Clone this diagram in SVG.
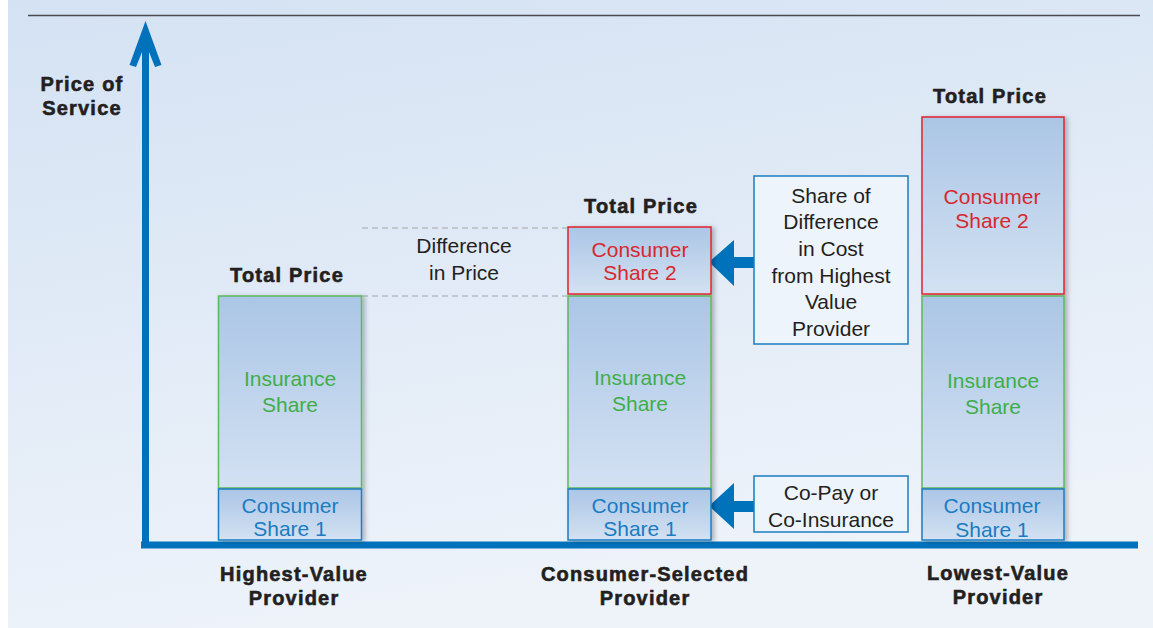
<svg xmlns="http://www.w3.org/2000/svg" width="1153" height="628" viewBox="0 0 1153 628">
<defs>
<linearGradient id="bg" x1="0" y1="0" x2="0.3" y2="1">
<stop offset="0" stop-color="#d4e2f3"/>
<stop offset="1" stop-color="#eef3fa"/>
</linearGradient>
<linearGradient id="bar" x1="0" y1="0" x2="0" y2="1">
<stop offset="0" stop-color="#abc6e6"/>
<stop offset="1" stop-color="#d3e1f2"/>
</linearGradient>
<filter id="sh" x="-10%" y="-10%" width="130%" height="120%">
<feDropShadow dx="3" dy="1" stdDeviation="2" flood-color="#000" flood-opacity="0.25"/>
</filter>
<style>
.bold{font-family:"Liberation Sans",Arial,sans-serif;font-weight:bold;font-size:20px;fill:#231f20;stroke:#231f20;stroke-width:0.6px;letter-spacing:1.2px;text-anchor:middle}
.t{font-family:"Liberation Sans",Arial,sans-serif;font-size:21px;text-anchor:middle}
.dark{fill:#231f20}
.grn{fill:#3fae49}
.red{fill:#d7282f}
.blu{fill:#1a7cc1}
.gseg{fill:url(#bar);stroke:#5cb85c;stroke-width:1.5}
.rseg{fill:url(#bar);stroke:#e0242c;stroke-width:1.5}
.bseg{fill:url(#bar);stroke:#1a7cc1;stroke-width:1.5}
.box{fill:#eef4fb;stroke:#1a7cc1;stroke-width:1.5}
.dash{stroke:#a0a4a8;stroke-width:1;stroke-dasharray:6 4;fill:none}
.arr{fill:#0072bc}
</style>
</defs>
<rect x="0" y="0" width="1153" height="628" fill="#ffffff"/>
<rect x="8" y="0" width="1145" height="628" fill="url(#bg)"/>
<line x1="28" y1="15.5" x2="1140" y2="15.5" stroke="#4a4a4f" stroke-width="1.5"/>

<g id="axes">
<polygon class="arr" points="145.5,21 161.5,65 155,67 149,52 149,545 142,545 142,52 136,67 129.5,65"/>
<rect class="arr" x="141" y="541.5" width="997" height="7"/>
<text class="bold" x="82" y="91">Price of</text>
<text class="bold" x="82" y="115">Service</text>
</g>

<g id="connectors">
<line class="dash" x1="362" y1="228" x2="567" y2="228"/>
<line class="dash" x1="362" y1="296" x2="567" y2="296"/>
<polygon class="arr" points="709,262 734,240 734,257 754,257 754,268 734,268 734,286"/>
<polygon class="arr" points="709,506 734,483 734,501 754,501 754,512 734,512 734,529"/>
</g>

<g id="bar-highest">
<g filter="url(#sh)">
<rect class="gseg" x="218.5" y="296" width="143" height="192"/>
<rect class="bseg" x="218.5" y="489" width="143" height="51"/>
</g>
<text class="bold" x="287" y="282">Total Price</text>
<text class="t grn" x="290" y="386">Insurance</text>
<text class="t grn" x="290" y="412">Share</text>
<text class="t blu" x="290" y="513">Consumer</text>
<text class="t blu" x="290" y="536">Share 1</text>
<text class="bold" x="294" y="581">Highest-Value</text>
<text class="bold" x="294" y="605">Provider</text>
</g>

<g id="difference-label">
<text class="t dark" x="464" y="253">Difference</text>
<text class="t dark" x="464" y="280">in Price</text>
</g>

<g id="bar-selected">
<g filter="url(#sh)">
<rect class="rseg" x="568" y="227" width="143" height="67"/>
<rect class="gseg" x="568" y="296" width="143" height="192"/>
<rect class="bseg" x="568" y="489" width="143" height="51"/>
</g>
<text class="bold" x="641" y="213">Total Price</text>
<text class="t red" x="640" y="257">Consumer</text>
<text class="t red" x="640" y="280">Share 2</text>
<text class="t grn" x="640" y="385">Insurance</text>
<text class="t grn" x="640" y="411">Share</text>
<text class="t blu" x="640" y="513">Consumer</text>
<text class="t blu" x="640" y="536">Share 1</text>
<text class="bold" x="645" y="581">Consumer-Selected</text>
<text class="bold" x="645" y="605">Provider</text>
</g>

<g id="note-difference">
<rect class="box" x="754" y="176" width="154" height="168"/>
<text class="t dark" x="831" y="203">Share of</text>
<text class="t dark" x="831" y="229">Difference</text>
<text class="t dark" x="831" y="256">in Cost</text>
<text class="t dark" x="831" y="283">from Highest</text>
<text class="t dark" x="831" y="309">Value</text>
<text class="t dark" x="831" y="336">Provider</text>
</g>

<g id="note-copay">
<rect class="box" x="754" y="476" width="154" height="56"/>
<text class="t dark" x="831" y="500">Co-Pay or</text>
<text class="t dark" x="831" y="527">Co-Insurance</text>
</g>

<g id="bar-lowest">
<g filter="url(#sh)">
<rect class="rseg" x="922" y="117" width="142" height="177"/>
<rect class="gseg" x="922" y="296" width="142" height="192"/>
<rect class="bseg" x="922" y="489" width="142" height="51"/>
</g>
<text class="bold" x="990" y="103">Total Price</text>
<text class="t red" x="992" y="204">Consumer</text>
<text class="t red" x="992" y="228">Share 2</text>
<text class="t grn" x="993" y="388">Insurance</text>
<text class="t grn" x="993" y="414">Share</text>
<text class="t blu" x="992" y="513">Consumer</text>
<text class="t blu" x="992" y="537">Share 1</text>
<text class="bold" x="998" y="580">Lowest-Value</text>
<text class="bold" x="998" y="604">Provider</text>
</g>
</svg>
